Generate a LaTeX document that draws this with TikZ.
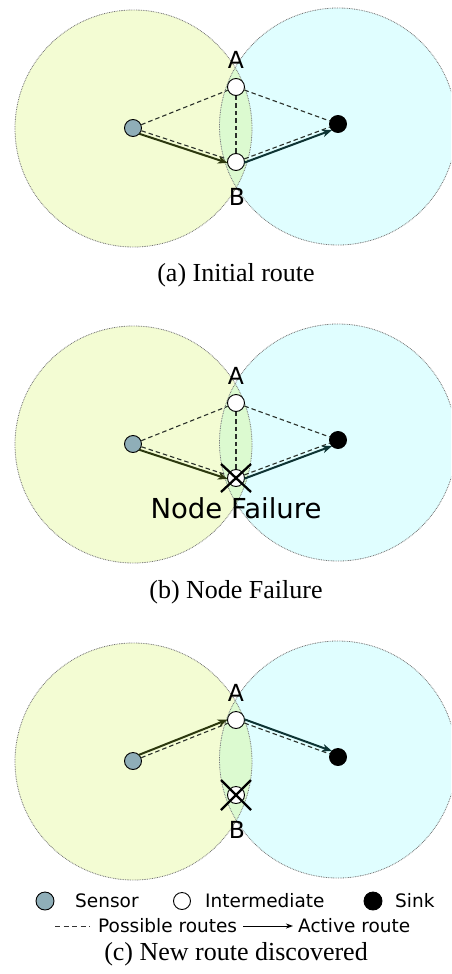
\documentclass[tikz,border=0pt]{standalone}
\usepackage{fontspec}
\setmainfont{Liberation Serif}
\newfontfamily\dvsans{DejaVu Sans}
\usetikzlibrary{arrows.meta,calc}
\definecolor{leftc}{HTML}{F3FCD3}
\definecolor{rightc}{HTML}{E0FEFF}
\definecolor{lensc}{HTML}{DCFAD0}
\definecolor{sensorc}{HTML}{8FAEB8}
\definecolor{olivec}{HTML}{2C380E}
\definecolor{tealc}{HTML}{0E3434}
\definecolor{dashc}{HTML}{2A302A}
\tikzset{
  rangeline/.style={draw=black!55, line width=0.8pt, dash pattern=on 0.8pt off 0.9pt},
  basenode/.style={circle, draw=black, line width=0.9pt, inner sep=0pt, minimum size=17pt},
  sensornode/.style={basenode, fill=sensorc},
  internode/.style={basenode, fill=white},
  sinknode/.style={basenode, fill=black},
  nodelbl/.style={font=\dvsans\fontsize{23.5}{23.5}\selectfont, inner sep=0pt},
  possible/.style={draw=dashc, line width=1.1pt, dash pattern=on 4.5pt off 3pt},
  activebase/.style={line width=2pt, -{Stealth[length=10pt,width=7.5pt,inset=3pt]}, shorten <=7.5pt, shorten >=7.5pt},
  activeo/.style={activebase, draw=olivec, color=olivec},
  activet/.style={activebase, draw=tealc, color=tealc},
  crossline/.style={draw=black, line width=2.3pt},
  legtext/.style={font=\dvsans\fontsize{18.5}{18.5}\selectfont, inner sep=0pt, anchor=base west},
  caption/.style={font=\fontsize{26}{26}\selectfont, inner sep=0pt, anchor=base},
}
\newcommand\rangebg{%
  \fill[leftc] (133.5,128.5) circle[radius=118.5];
  \fill[rightc] (338,126.5) circle[radius=118.5];
  \begin{scope}
    \clip (133.5,128.5) circle[radius=118.5];
    \fill[lensc] (338,126.5) circle[radius=118.5];
  \end{scope}
  \draw[rangeline] (133.5,128.5) circle[radius=118.5];
  \draw[rangeline] (338,126.5) circle[radius=118.5];
}
\newcommand\mknodes[1]{%
  \node[sensornode] (S#1) at (133,128) {};
  \node[internode] (A#1) at (236,87) {};
  \node[internode] (B#1) at (236,162) {};
  \node[sinknode] (K#1) at (338,124) {};
  \node[nodelbl] (LA#1) at (236,60) {A};
}
\begin{document}
\begin{tikzpicture}[x=1pt,y=-1pt]
\path[use as bounding box] (0,0) rectangle (451,974);
\begin{scope}
\clip (0,0) rectangle (451,974);
% ---------- panel (a)
\begin{scope}
  \rangebg
  \mknodes{a}
  \node[nodelbl] (LBa) at (237,197) {B};
  \draw[possible] (Sa) -- (Aa);
  \draw[possible] (Sa) -- (Ba);
  \draw[possible] (Aa) -- (Ba);
  \draw[possible] (Aa) -- (Ka);
  \draw[possible] (Ba) -- (Ka);
  \draw[activeo] ($(Sa)!3.5pt!-90:(Ba)$) -- ($(Ba)!3.5pt!90:(Sa)$);
  \draw[activet] ($(Ba)!3.5pt!-90:(Ka)$) -- ($(Ka)!3.5pt!90:(Ba)$);
\end{scope}
% ---------- panel (b)
\begin{scope}[shift={(0,316)}]
  \rangebg
  \mknodes{b}
  \draw[possible] (Sb) -- (Ab);
  \draw[possible] (Sb) -- (Bb);
  \draw[possible] (Ab) -- (Bb);
  \draw[possible] (Ab) -- (Kb);
  \draw[possible] (Bb) -- (Kb);
  \draw[activeo] ($(Sb)!3.5pt!-90:(Bb)$) -- ($(Bb)!3.5pt!90:(Sb)$);
  \draw[activet] ($(Bb)!3.5pt!-90:(Kb)$) -- ($(Kb)!3.5pt!90:(Bb)$);
  \draw[crossline] ($(Bb)+(-15,-14)$) -- ($(Bb)+(15,14)$);
  \draw[crossline] ($(Bb)+(15,-14)$) -- ($(Bb)+(-15,14)$);
  \node[font=\dvsans\fontsize{27.5}{27.5}\selectfont, inner sep=0pt] (NF) at (236,192) {Node Failure};
\end{scope}
% ---------- panel (c)
\begin{scope}[shift={(0,633)}]
  \rangebg
  \mknodes{c}
  \node[nodelbl] (LBc) at (237,197) {B};
  \draw[possible] (Sc) -- (Ac);
  \draw[possible] (Ac) -- (Kc);
  \draw[activeo] ($(Sc)!3.5pt!90:(Ac)$) -- ($(Ac)!3.5pt!-90:(Sc)$);
  \draw[activet] ($(Ac)!3.5pt!90:(Kc)$) -- ($(Kc)!3.5pt!-90:(Ac)$);
  \draw[crossline] ($(Bc)+(-15,-15)$) -- ($(Bc)+(15,15)$);
  \draw[crossline] ($(Bc)+(15,-15)$) -- ($(Bc)+(-15,15)$);
\end{scope}
% ---------- captions
\node[caption] (capa) at (236,281) {(a) Initial route};
\node[caption] (capb) at (236,598) {(b) Node Failure};
\node[caption] (capc) at (236,960) {(c) New route discovered};
% ---------- legend
\node[sensornode, minimum size=18pt] (legS) at (45,901) {};
\node[legtext] (legSt) at (75,907) {Sensor};
\node[internode, minimum size=17pt] (legI) at (182,901) {};
\node[legtext] (legIt) at (205,907) {Intermediate};
\node[sinknode, minimum size=18pt] (legK) at (373,901) {};
\node[legtext] (legKt) at (395,907) {Sink};
\coordinate (legD1) at (55,926);
\coordinate (legD2) at (90,926);
\draw[possible, draw=black!80, line width=0.9pt, dash pattern=on 5pt off 3.5pt] (legD1) -- (legD2);
\node[legtext] (legPt) at (98,932) {Possible routes};
\coordinate (legA1) at (243,926);
\coordinate (legA2) at (293,926);
\draw[black, line width=1pt, -{Stealth[length=7pt,width=5pt,inset=2pt]}] (legA1) -- (legA2);
\node[legtext] (legAt) at (298,932) {Active route};
\end{scope}
\end{tikzpicture}
\end{document}
